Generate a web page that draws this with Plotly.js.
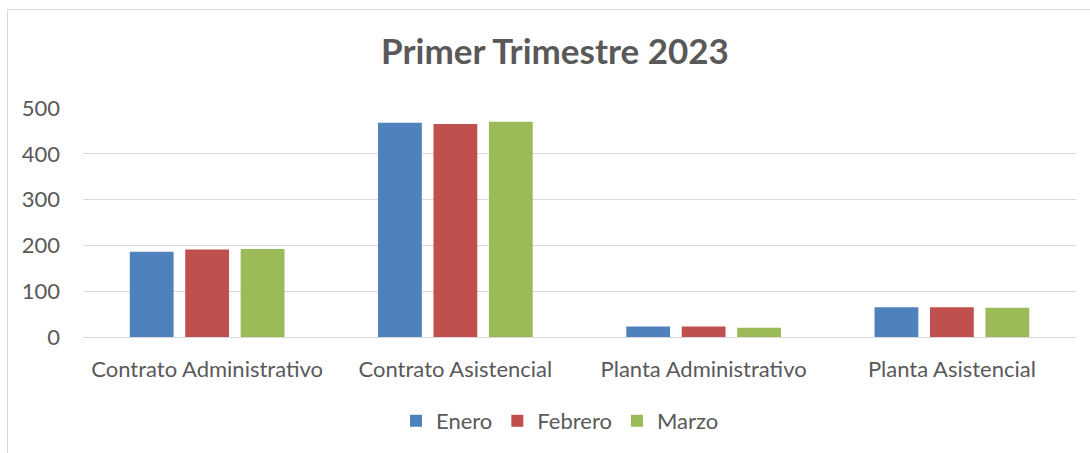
<!DOCTYPE html>
<html>
<head>
<meta charset="utf-8">
<script src="https://cdn.plot.ly/plotly-3.0.1.min.js"></script>
<style>
  html, body { margin: 0; padding: 0; background: #fff; }
  #wrap { position: relative; width: 1090px; height: 453px; overflow: hidden; }
  #frame { position: absolute; left: 7px; top: 9px; width: 1100px; height: 500px; border: 1px solid #d9d9d9; box-sizing: border-box; }
  #chart { position: absolute; left: 0; top: 0; width: 1090px; height: 453px; }
</style>
</head>
<body>
<div id="wrap">
  <div id="frame"></div>
  <div id="chart"></div>
</div>
<script>
const categories = ["Contrato Administrativo", "Contrato Asistencial", "Planta Administrativo", "Planta Asistencial"];
const seriesNames = ["Enero", "Febrero", "Marzo"];
const enero = [186, 468, 23, 65];
const febrero = [191, 465, 23, 65];
const marzo = [192, 470, 20, 64];
const colors = ["#4f81bd", "#c0504d", "#9bbb59"];
const yTicks = [0, 100, 200, 300, 400, 500];

const values = [enero, febrero, marzo];
const traces = values.map((v, i) => ({
  type: "bar",
  name: seriesNames[i],
  x: categories,
  y: v,
  marker: { color: colors[i], line: { width: 0 } },
  hoverinfo: "x+y+name"
}));

const font = "Lato, Carlito, 'Noto Sans', sans-serif";
const layout = {
  width: 1090,
  height: 453,
  paper_bgcolor: "rgba(0,0,0,0)",
  plot_bgcolor: "rgba(0,0,0,0)",
  margin: { l: 83, r: 14, t: 108, b: 115 },
  title: {
    text: "<b>Primer Trimestre 2023</b>",
    font: { family: font, size: 35, color: "#595959" },
    x: 555 / 1090, xanchor: "center", xref: "container",
    y: 1 - 52 / 453, yanchor: "middle", yref: "container"
  },
  barmode: "group",
  bargap: 0.33,
  bargroupgap: 0.21,
  xaxis: {
    type: "category",
    tickfont: { family: font, size: 22, color: "#595959" },
    showgrid: false,
    showline: false,
    ticks: "",
    ticklen: 0,
    ticklabelstandoff: 17,
    automargin: false
  },
  yaxis: {
    range: [0, 500],
    tickvals: yTicks,
    tickfont: { family: font, size: 22, color: "#595959" },
    showgrid: true,
    gridcolor: "#d9d9d9",
    gridwidth: 1,
    zeroline: true,
    zerolinecolor: "#d9d9d9",
    zerolinewidth: 1,
    showline: false,
    ticks: "",
    ticklabelstandoff: 22,
    automargin: false
  },
  showlegend: true,
  legend: {
    orientation: "h",
    x: (560 - 83) / 993, xanchor: "center",
    y: (338 - 421) / 230, yanchor: "middle",
    font: { family: font, size: 22, color: "#595959" },
    itemwidth: 30,
    traceorder: "normal"
  }
};

Plotly.newPlot("chart", traces, layout, { displayModeBar: false, staticPlot: true });
</script>
</body>
</html>
